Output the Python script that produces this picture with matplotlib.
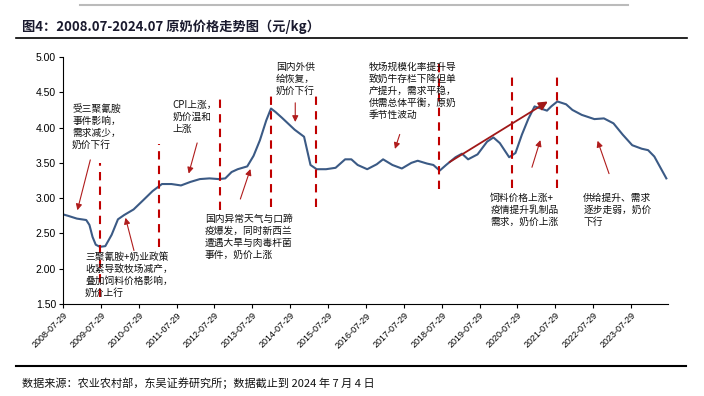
import pandas as pd
import matplotlib
matplotlib.use('Agg')
import matplotlib.pyplot as plt
import matplotlib.dates as mdates
from matplotlib.lines import Line2D

plt.rcParams['font.family'] = ['Noto Sans CJK SC', 'DejaVu Sans']

# raw milk price (yuan/kg)
dates = ['2008-07-29', '2008-09-15', '2008-12-10', '2009-03-10', '2009-04-10', '2009-05-10',
         '2009-06-10', '2009-07-20', '2009-09-10', '2009-11-10', '2010-01-10', '2010-03-10',
         '2010-06-10', '2010-09-10', '2010-12-10', '2011-03-10', '2011-06-10', '2011-09-10',
         '2011-12-10', '2012-03-10', '2012-06-10', '2012-09-10', '2012-11-10', '2013-01-10',
         '2013-03-10', '2013-06-10', '2013-08-10', '2013-10-10', '2013-12-10', '2014-01-25',
         '2014-03-10', '2014-05-10', '2014-09-10', '2014-12-10', '2015-02-10', '2015-04-10',
         '2015-07-10', '2015-10-10', '2016-01-10', '2016-03-10', '2016-05-10', '2016-08-10',
         '2016-11-10', '2017-01-10', '2017-04-10', '2017-07-10', '2017-10-10', '2017-12-10',
         '2018-03-10', '2018-05-10', '2018-07-10', '2018-09-10', '2018-12-10', '2019-02-10',
         '2019-04-10', '2019-07-10', '2019-10-10', '2019-12-10', '2020-02-10', '2020-05-10',
         '2020-07-10', '2020-09-10', '2020-11-10', '2021-01-10', '2021-03-10', '2021-05-10',
         '2021-06-20', '2021-08-18', '2021-11-10', '2022-01-10', '2022-04-10', '2022-08-10',
         '2022-11-10', '2023-02-10', '2023-05-10', '2023-08-10', '2023-11-10', '2024-01-10',
         '2024-03-10', '2024-07-04']
price = [2.77, 2.75, 2.71, 2.69, 2.62, 2.45,
         2.34, 2.31, 2.32, 2.48, 2.70, 2.76,
         2.84, 2.97, 3.10, 3.20, 3.20, 3.18,
         3.23, 3.27, 3.28, 3.27, 3.28, 3.37,
         3.41, 3.45, 3.60, 3.82, 4.10, 4.27,
         4.22, 4.14, 3.97, 3.87, 3.47, 3.41,
         3.41, 3.43, 3.55, 3.55, 3.47, 3.41,
         3.48, 3.55, 3.47, 3.42, 3.50, 3.53,
         3.49, 3.47, 3.39, 3.47, 3.58, 3.63,
         3.55, 3.62, 3.80, 3.86, 3.78, 3.58,
         3.64, 3.90, 4.12, 4.30, 4.27, 4.24,
         4.30, 4.37, 4.33, 4.25, 4.18, 4.12,
         4.13, 4.06, 3.90, 3.75, 3.70, 3.68,
         3.59, 3.28]

# event separators: date, bottom, top
event_dates = ['2009-07-19', '2011-02-10', '2012-09-23', '2014-01-25',
               '2015-04-05', '2018-07-08', '2020-06-05', '2021-08-18']
event_low = [1.60, 2.31, 2.83, 2.88, 2.88, 3.13, 3.14, 3.14]
event_high = [3.50, 3.77, 4.43, 4.50, 4.50, 4.96, 4.77, 4.77]

tick_dates = pd.date_range('2008-07-29', periods=16, freq=pd.DateOffset(years=1))
tick_labels = [d.strftime('%Y-%m-%d') for d in tick_dates]

notes = [
    ('受三聚氰胺\n事件影响，\n需求减少，\n奶价下行', '2008-10-25', 4.33),
    ('三聚氰胺+奶业政策\n收紧导致牧场减产，\n叠加饲料价格影响，\n奶价上行', '2009-02-27', 2.24),
    ('CPI上涨，\n奶价温和\n上涨', '2011-06-20', 4.39),
    ('国内异常天气与口蹄\n疫爆发，同时新西兰\n遭遇大旱与肉毒杆菌\n事件，奶价上涨', '2012-04-25', 2.77),
    ('国内外供\n给恢复，\n奶价下行', '2014-03-15', 4.93),
    ('牧场规模化率提升导\n致奶牛存栏下降但单\n产提升，需求平稳，\n供需总体平衡，原奶\n季节性波动', '2016-08-28', 4.93),
    ('饲料价格上涨+\n疫情提升乳制品\n需求，奶价上涨', '2019-11-10', 3.08),
    ('供给提升、需求\n逐步走弱，奶价\n下行', '2022-04-25', 3.08),
]
arrows = [
    ('2009-04-25', 3.58, '2008-12-08', 2.79),
    ('2010-06-20', 2.22, '2010-03-17', 2.76),
    ('2012-02-20', 3.82, '2011-11-16', 3.31),
    ('2013-03-27', 2.95, '2013-07-19', 3.45),
    ('2014-09-16', 4.39, '2014-09-16', 4.04),
    ('2017-06-28', 3.94, '2017-04-26', 3.66),
    ('2020-12-08', 3.40, '2021-03-15', 3.86),
    ('2023-01-07', 3.31, '2022-09-01', 3.85),
]

fig = plt.figure(figsize=(7.04, 3.96), dpi=100)
ax = fig.add_axes([63 / 704, 1 - 304 / 396, 605 / 704, 247 / 396])

x = pd.to_datetime(dates)
ax.plot(x, price, color='#3b5a85', lw=1.5)

for d, lo, hi in zip(event_dates, event_low, event_high):
    ax.plot([pd.Timestamp(d)] * 2, [lo, hi], color='#c00000', lw=1.5, ls=(0, (4, 3)))

for txt, d, y in notes:
    ax.text(pd.Timestamp(d), y, txt, fontsize=7, va='top', ha='left', linespacing=1.25, color='#111111')

for x0, y0, x1, y1 in arrows:
    ax.annotate('', xy=(pd.Timestamp(x1), y1), xytext=(pd.Timestamp(x0), y0),
                arrowprops=dict(arrowstyle='-|>', color='#b01c1c', lw=0.8, mutation_scale=9))

# long trend arrow
ax.annotate('', xy=(pd.Timestamp('2021-06-10'), 4.39), xytext=(pd.Timestamp('2018-09-20'), 3.49),
            arrowprops=dict(arrowstyle='-|>', color='#a01818', lw=1.3, mutation_scale=13))

ax.set_xlim(pd.Timestamp('2008-07-29'), pd.Timestamp('2024-07-20'))
ax.set_ylim(1.5, 5.0)
ax.set_yticks([1.5, 2.0, 2.5, 3.0, 3.5, 4.0, 4.5, 5.0])
ax.set_yticklabels(['%.2f' % v for v in ax.get_yticks()], fontsize=7.5, family='Liberation Sans')
ax.set_xticks(tick_dates)
ax.set_xticklabels(tick_labels, rotation=45, ha='right', rotation_mode='anchor',
                   fontsize=6.5, family='Liberation Sans')
ax.tick_params(axis='both', direction='out', length=3, width=0.8, pad=2)
for s in ['top', 'right']:
    ax.spines[s].set_visible(False)
for s in ['left', 'bottom']:
    ax.spines[s].set_linewidth(0.8)

# header, rules, footer
fig.text(22 / 704, 1 - 27 / 396, '图4：2008.07-2024.07 原奶价格走势图（元/kg）',
         fontsize=9.5, fontweight='bold', va='center', ha='left', color='#1a1a2e')
fig.add_artist(Line2D([16 / 704, 687 / 704], [1 - 38 / 396] * 2, color='black', lw=1.2))
fig.add_artist(Line2D([16 / 704, 686 / 704], [1 - 366 / 396] * 2, color='black', lw=1.5))
fig.add_artist(Line2D([80 / 704, 628 / 704], [1 - 5 / 396] * 2, color='#bbbbbb', lw=1.5))
fig.text(22 / 704, 1 - 383 / 396, '数据来源：农业农村部，东吴证券研究所；数据截止到 2024 年 7 月 4 日',
         fontsize=8, va='center', ha='left', color='#111111')

fig.savefig('out.png', dpi=100)
